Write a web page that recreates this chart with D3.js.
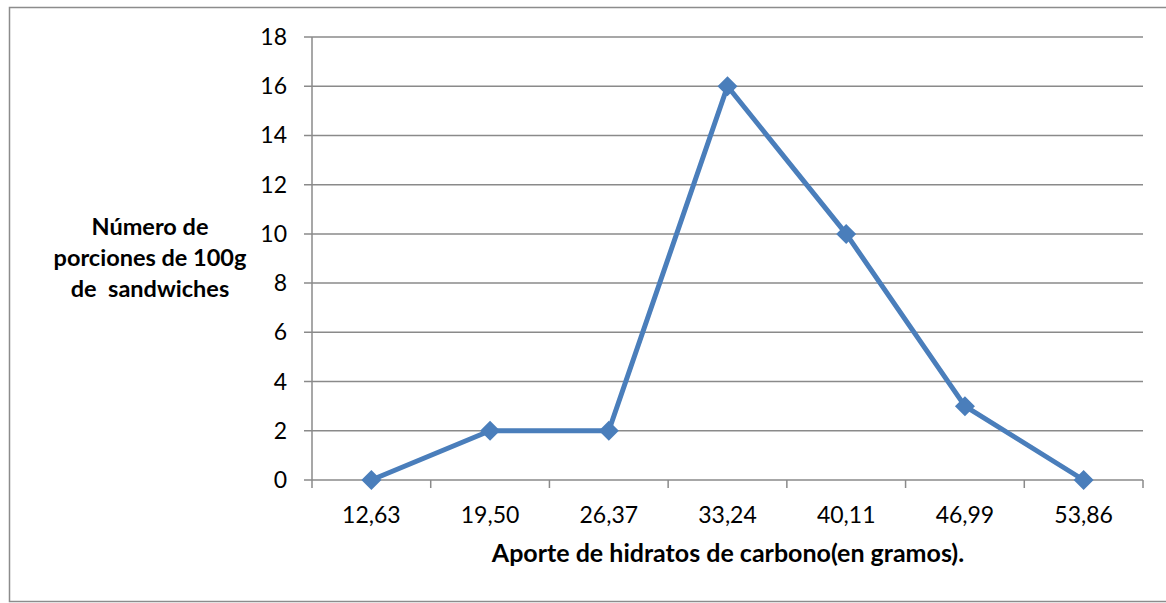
<!DOCTYPE html>
<html>
<head>
<meta charset="utf-8">
<script src="https://d3js.org/d3.v7.min.js"></script>
<style>
  body { margin: 0; background: #fff; }
  svg { display: block; font-family: Lato, "Open Sans", sans-serif; }
</style>
</head>
<body>
<div id="chart"></div>
<script>
// data
var categories = ["12,63", "19,50", "26,37", "33,24", "40,11", "46,99", "53,86"];
var values = [0, 2, 2, 16, 10, 3, 0];
var yTicks = [0, 2, 4, 6, 8, 10, 12, 14, 16, 18];
var yTitle = ["Número de", "porciones de 100g", "de  sandwiches"];
var xTitle = "Aporte de hidratos de carbono(en gramos).";

var width = 1166, height = 603;
var plotLeft = 312, plotRight = 1143, plotTop = 37, plotBottom = 480;

var svg = d3.select("#chart").append("svg")
    .attr("width", width)
    .attr("height", height);

// outer frame
svg.append("rect")
    .attr("x", 9.5).attr("y", 7.5)
    .attr("width", 1170).attr("height", 594)
    .attr("fill", "none")
    .attr("stroke", "#8c8c8c")
    .attr("stroke-width", 1.5);

var x = d3.scaleBand().domain(categories).range([plotLeft, plotRight]);
var y = d3.scaleLinear().domain([0, 18]).range([plotBottom, plotTop]);

// gridlines
svg.append("g").selectAll("line")
    .data(yTicks)
    .enter().append("line")
    .attr("x1", plotLeft - 8).attr("x2", plotRight)
    .attr("y1", function(d) { return y(d); })
    .attr("y2", function(d) { return y(d); })
    .attr("stroke", "#8a8a8a")
    .attr("stroke-width", 1.5);

// y axis line
svg.append("line")
    .attr("x1", plotLeft).attr("x2", plotLeft)
    .attr("y1", plotTop).attr("y2", plotBottom)
    .attr("stroke", "#8a8a8a").attr("stroke-width", 1.5);

// x ticks at category boundaries
var bounds = categories.map(function(c) { return x(c); }).concat([plotRight]);
svg.append("g").selectAll("line")
    .data(bounds)
    .enter().append("line")
    .attr("x1", function(d) { return d; })
    .attr("x2", function(d) { return d; })
    .attr("y1", plotBottom).attr("y2", plotBottom + 8)
    .attr("stroke", "#8a8a8a").attr("stroke-width", 1.5);

// y tick labels
svg.append("g").selectAll("text")
    .data(yTicks)
    .enter().append("text")
    .attr("x", 287)
    .attr("y", function(d) { return y(d) + 8; })
    .attr("text-anchor", "end")
    .attr("font-size", 23)
    .attr("fill", "#000")
    .text(function(d) { return d; });

// x tick labels
svg.append("g").selectAll("text")
    .data(categories)
    .enter().append("text")
    .attr("x", function(d) { return x(d) + x.bandwidth() / 2; })
    .attr("y", 523)
    .attr("text-anchor", "middle")
    .attr("font-size", 23)
    .attr("fill", "#000")
    .text(function(d) { return d; });

// line
var line = d3.line()
    .x(function(d, i) { return x(categories[i]) + x.bandwidth() / 2; })
    .y(function(d) { return y(d); });

svg.append("path")
    .datum(values)
    .attr("d", line)
    .attr("fill", "none")
    .attr("stroke", "#4a7ebb")
    .attr("stroke-width", 5)
    .attr("stroke-linejoin", "round");

// diamond markers
svg.append("g").selectAll("path")
    .data(values)
    .enter().append("path")
    .attr("d", "M0,-10L10,0L0,10L-10,0Z")
    .attr("transform", function(d, i) {
      return "translate(" + (x(categories[i]) + x.bandwidth() / 2) + "," + y(d) + ")";
    })
    .attr("fill", "#4a7ebb");

// y title
svg.append("g").selectAll("text")
    .data(yTitle)
    .enter().append("text")
    .attr("x", 150)
    .attr("y", function(d, i) { return 235 + i * 31; })
    .attr("text-anchor", "middle")
    .attr("font-size", 23.5)
    .attr("font-weight", "bold")
    .style("white-space", "pre")
    .text(function(d) { return d; });

// x title
svg.append("text")
    .attr("x", 728)
    .attr("y", 562)
    .attr("text-anchor", "middle")
    .attr("font-size", 25)
    .attr("font-weight", "bold")
    .text(xTitle);
</script>
</body>
</html>
